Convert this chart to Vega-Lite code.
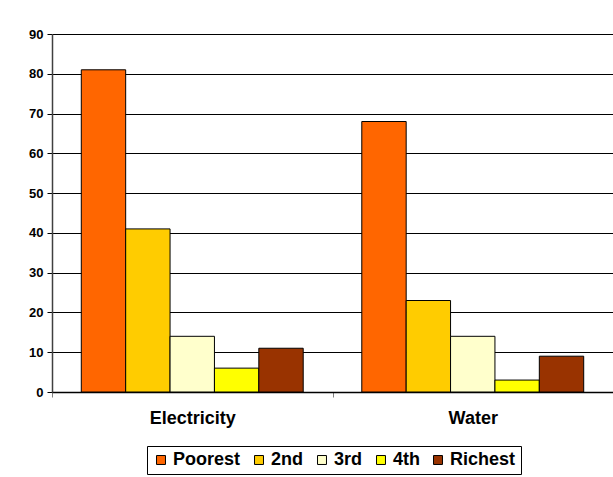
{
  "$schema": "https://vega.github.io/schema/vega-lite/v6.json",
  "autosize": "none",
  "width": 561,
  "height": 358,
  "padding": {"left": 52, "top": 34, "right": 0, "bottom": 85},
  "background": "white",
  "config": {
    "view": {"stroke": null},
    "font": "Liberation Sans"
  },
  "data": {
    "values": [
      {"service": "Electricity", "quintile": "Poorest", "value": 81},
      {"service": "Electricity", "quintile": "2nd", "value": 41},
      {"service": "Electricity", "quintile": "3rd", "value": 14},
      {"service": "Electricity", "quintile": "4th", "value": 6},
      {"service": "Electricity", "quintile": "Richest", "value": 11},
      {"service": "Water", "quintile": "Poorest", "value": 68},
      {"service": "Water", "quintile": "2nd", "value": 23},
      {"service": "Water", "quintile": "3rd", "value": 14},
      {"service": "Water", "quintile": "4th", "value": 3},
      {"service": "Water", "quintile": "Richest", "value": 9}
    ]
  },
  "mark": {"type": "bar", "stroke": "#000000", "strokeWidth": 1},
  "encoding": {
    "x": {
      "field": "service",
      "type": "nominal",
      "sort": ["Electricity", "Water"],
      "scale": {"paddingInner": 0, "paddingOuter": 0},
      "axis": {
        "title": null,
        "labelAngle": 0,
        "labelFont": "Liberation Sans",
        "labelFontWeight": "bold",
        "labelFontSize": 18,
        "labelColor": "#000000",
        "labelPadding": 12,
        "tickBand": "extent",
        "tickSize": 5,
        "tickColor": "#808080",
        "domainColor": "#000000",
        "domainWidth": 1.5
      }
    },
    "xOffset": {
      "field": "quintile",
      "type": "nominal",
      "sort": ["Poorest", "2nd", "3rd", "4th", "Richest"],
      "scale": {"paddingInner": 0, "paddingOuter": 0.66}
    },
    "y": {
      "field": "value",
      "type": "quantitative",
      "scale": {"domain": [0, 90], "nice": false},
      "axis": {
        "title": null,
        "values": [0, 10, 20, 30, 40, 50, 60, 70, 80, 90],
        "grid": true,
        "gridColor": "#000000",
        "gridWidth": 1,
        "gridOpacity": 1,
        "domainColor": "#404040",
        "domainWidth": 1.5,
        "tickColor": "#000000",
        "tickSize": 5,
        "labelFont": "Liberation Sans",
        "labelFontWeight": "bold",
        "labelFontSize": 13,
        "labelColor": "#000000",
        "labelPadding": 4
      }
    },
    "color": {
      "field": "quintile",
      "type": "nominal",
      "sort": ["Poorest", "2nd", "3rd", "4th", "Richest"],
      "scale": {
        "domain": ["Poorest", "2nd", "3rd", "4th", "Richest"],
        "range": ["#FF6600", "#FFCC00", "#FFFFCC", "#FFFF00", "#993300"]
      },
      "legend": {
        "title": null,
        "orient": "none",
        "direction": "horizontal",
        "legendX": 95,
        "legendY": 412,
        "fillColor": "#ffffff",
        "strokeColor": "#000000",
        "padding": 5,
        "symbolType": "square",
        "symbolSize": 80,
        "symbolStrokeColor": "#000000",
        "symbolStrokeWidth": 1,
        "symbolOpacity": 1,
        "labelFont": "Liberation Sans",
        "labelFontWeight": "bold",
        "labelFontSize": 18,
        "labelColor": "#000000",
        "labelOffset": 3,
        "columnPadding": 9
      }
    }
  }
}
